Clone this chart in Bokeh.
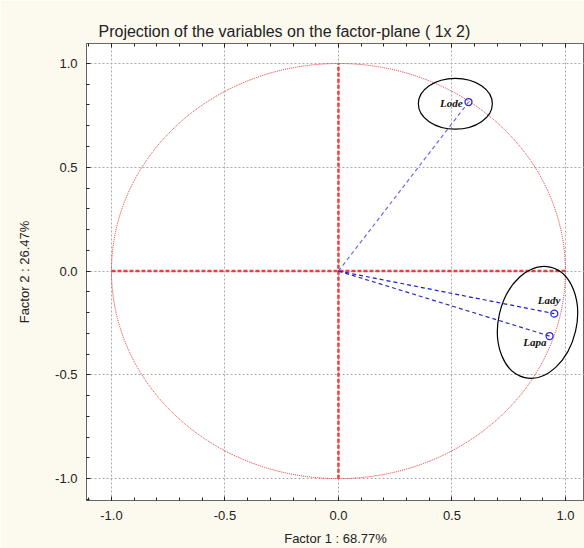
from bokeh.plotting import figure
from bokeh.models import SingleIntervalTicker, LinearAxis, Range1d, Title, ColumnDataSource, NumeralTickFormatter
from bokeh.core.properties import value
from bokeh.embed import file_html
from bokeh.resources import INLINE

# Data
var_names = ["Lode", "Lady", "Lapa"]
factor1 = [0.573, 0.951, 0.930]
factor2 = [0.814, -0.205, -0.313]

# highlight ellipses (centre x, centre y, width, height, angle)
ell_x = [0.515, 0.877]
ell_y = [0.806, -0.247]
ell_w = [0.326, 0.344]
ell_h = [0.245, 0.547]
ell_a = [0.0, -0.227]

title_text = "Projection of the variables on the factor-plane ( 1x  2)"
xlabel = "Factor 1 : 68.77%"
ylabel = "Factor 2 : 26.47%"

FONT = "Liberation Sans"
BG = "#fcf9ef"

p = figure(width=584, height=548, output_backend="svg", toolbar_location=None,
           x_range=Range1d(-1.110, 1.084), y_range=Range1d(-1.105, 1.096),
           min_border_left=86, min_border_right=0, min_border_top=43, min_border_bottom=46,
           border_fill_color=BG, background_fill_color="white")
p.title = None
p.outline_line_color = "#666666"

ticker = SingleIntervalTicker(interval=0.5, num_minor_ticks=5)

bottom = p.below[0]
left = p.left[0]

top = LinearAxis(ticker=ticker, major_tick_in=4, major_tick_out=0, minor_tick_in=3,
                 minor_tick_out=0, major_label_text_font_size="1px",
                 major_label_text_color=None,
                 major_label_standoff=0, axis_line_color="#666666",
                 major_tick_line_color="#222222", minor_tick_line_color="#222222")
p.add_layout(top, "above")

t = Title(text=title_text, align="left", offset=12, text_font=FONT,
          text_font_size="16px", text_font_style="normal", text_color="#222222",
          standoff=8)
p.add_layout(t, "above")

for ax in [bottom, left]:
    ax.ticker = ticker
    ax.major_tick_in = 4
    ax.major_tick_out = 0
    ax.minor_tick_in = 3
    ax.minor_tick_out = 0
    ax.major_tick_line_color = "#222222"
    ax.minor_tick_line_color = "#222222"
    ax.axis_line_color = "#666666"
    ax.major_label_text_font = FONT
    ax.major_label_text_font_size = "13px"
    ax.major_label_text_color = "#222222"
    ax.axis_label_text_font = FONT
    ax.axis_label_text_font_size = "13px"
    ax.axis_label_text_font_style = "normal"
    ax.axis_label_text_color = "#222222"
    ax.formatter = NumeralTickFormatter(format="0.0")
bottom.axis_label = xlabel
bottom.major_label_standoff = 10
bottom.axis_label_standoff = 8
left.axis_label = ylabel
left.major_label_standoff = 9
left.axis_label_standoff = 20

p.grid.ticker = ticker
p.grid.grid_line_color = "#aaaaaa"
p.grid.grid_line_dash = "2 2"
p.grid.grid_line_width = 1

# unit circle
p.ellipse(x=[0], y=[0], width=[2], height=[2], fill_color=None,
          line_color="#e03030", line_dash="1 1", line_width=1)

# axes through origin
p.line(x=[-1, 1], y=[0, 0], line_color="#e84040", line_width=2.5, line_dash="4 2")
p.line(x=[0, 0], y=[-1, 1], line_color="#e84040", line_width=2.5, line_dash="4 2")

# vectors
line_colors = ["#6a6ae8", "#1a1ad0", "#3030b0"]
for xv, yv, c in zip(factor1, factor2, line_colors):
    p.line(x=[0, xv], y=[0, yv], line_color=c, line_width=1.2, line_dash="4 3")

src = ColumnDataSource(dict(x=factor1, y=factor2, name=var_names))
p.scatter(x="x", y="y", source=src, marker="circle", size=7, fill_color=None,
          line_color="#2a2ae0", line_width=1.3)

# labels
lab_dx = [-6, 6, -3]
lab_dy = [1, -14, 6]
p.text(x=factor1, y=factor2, text=var_names, x_offset=lab_dx, y_offset=lab_dy,
       text_align="right", text_baseline="middle",
       text_font=value("Liberation Serif"), text_font_style="bold italic",
       text_font_size="11px", text_color="#111111")

# highlight ellipses
p.ellipse(x=ell_x, y=ell_y, width=ell_w, height=ell_h, angle=ell_a,
          fill_color=None, line_color="black", line_width=1.2)

open("out.html", "w").write(file_html(p, INLINE))
